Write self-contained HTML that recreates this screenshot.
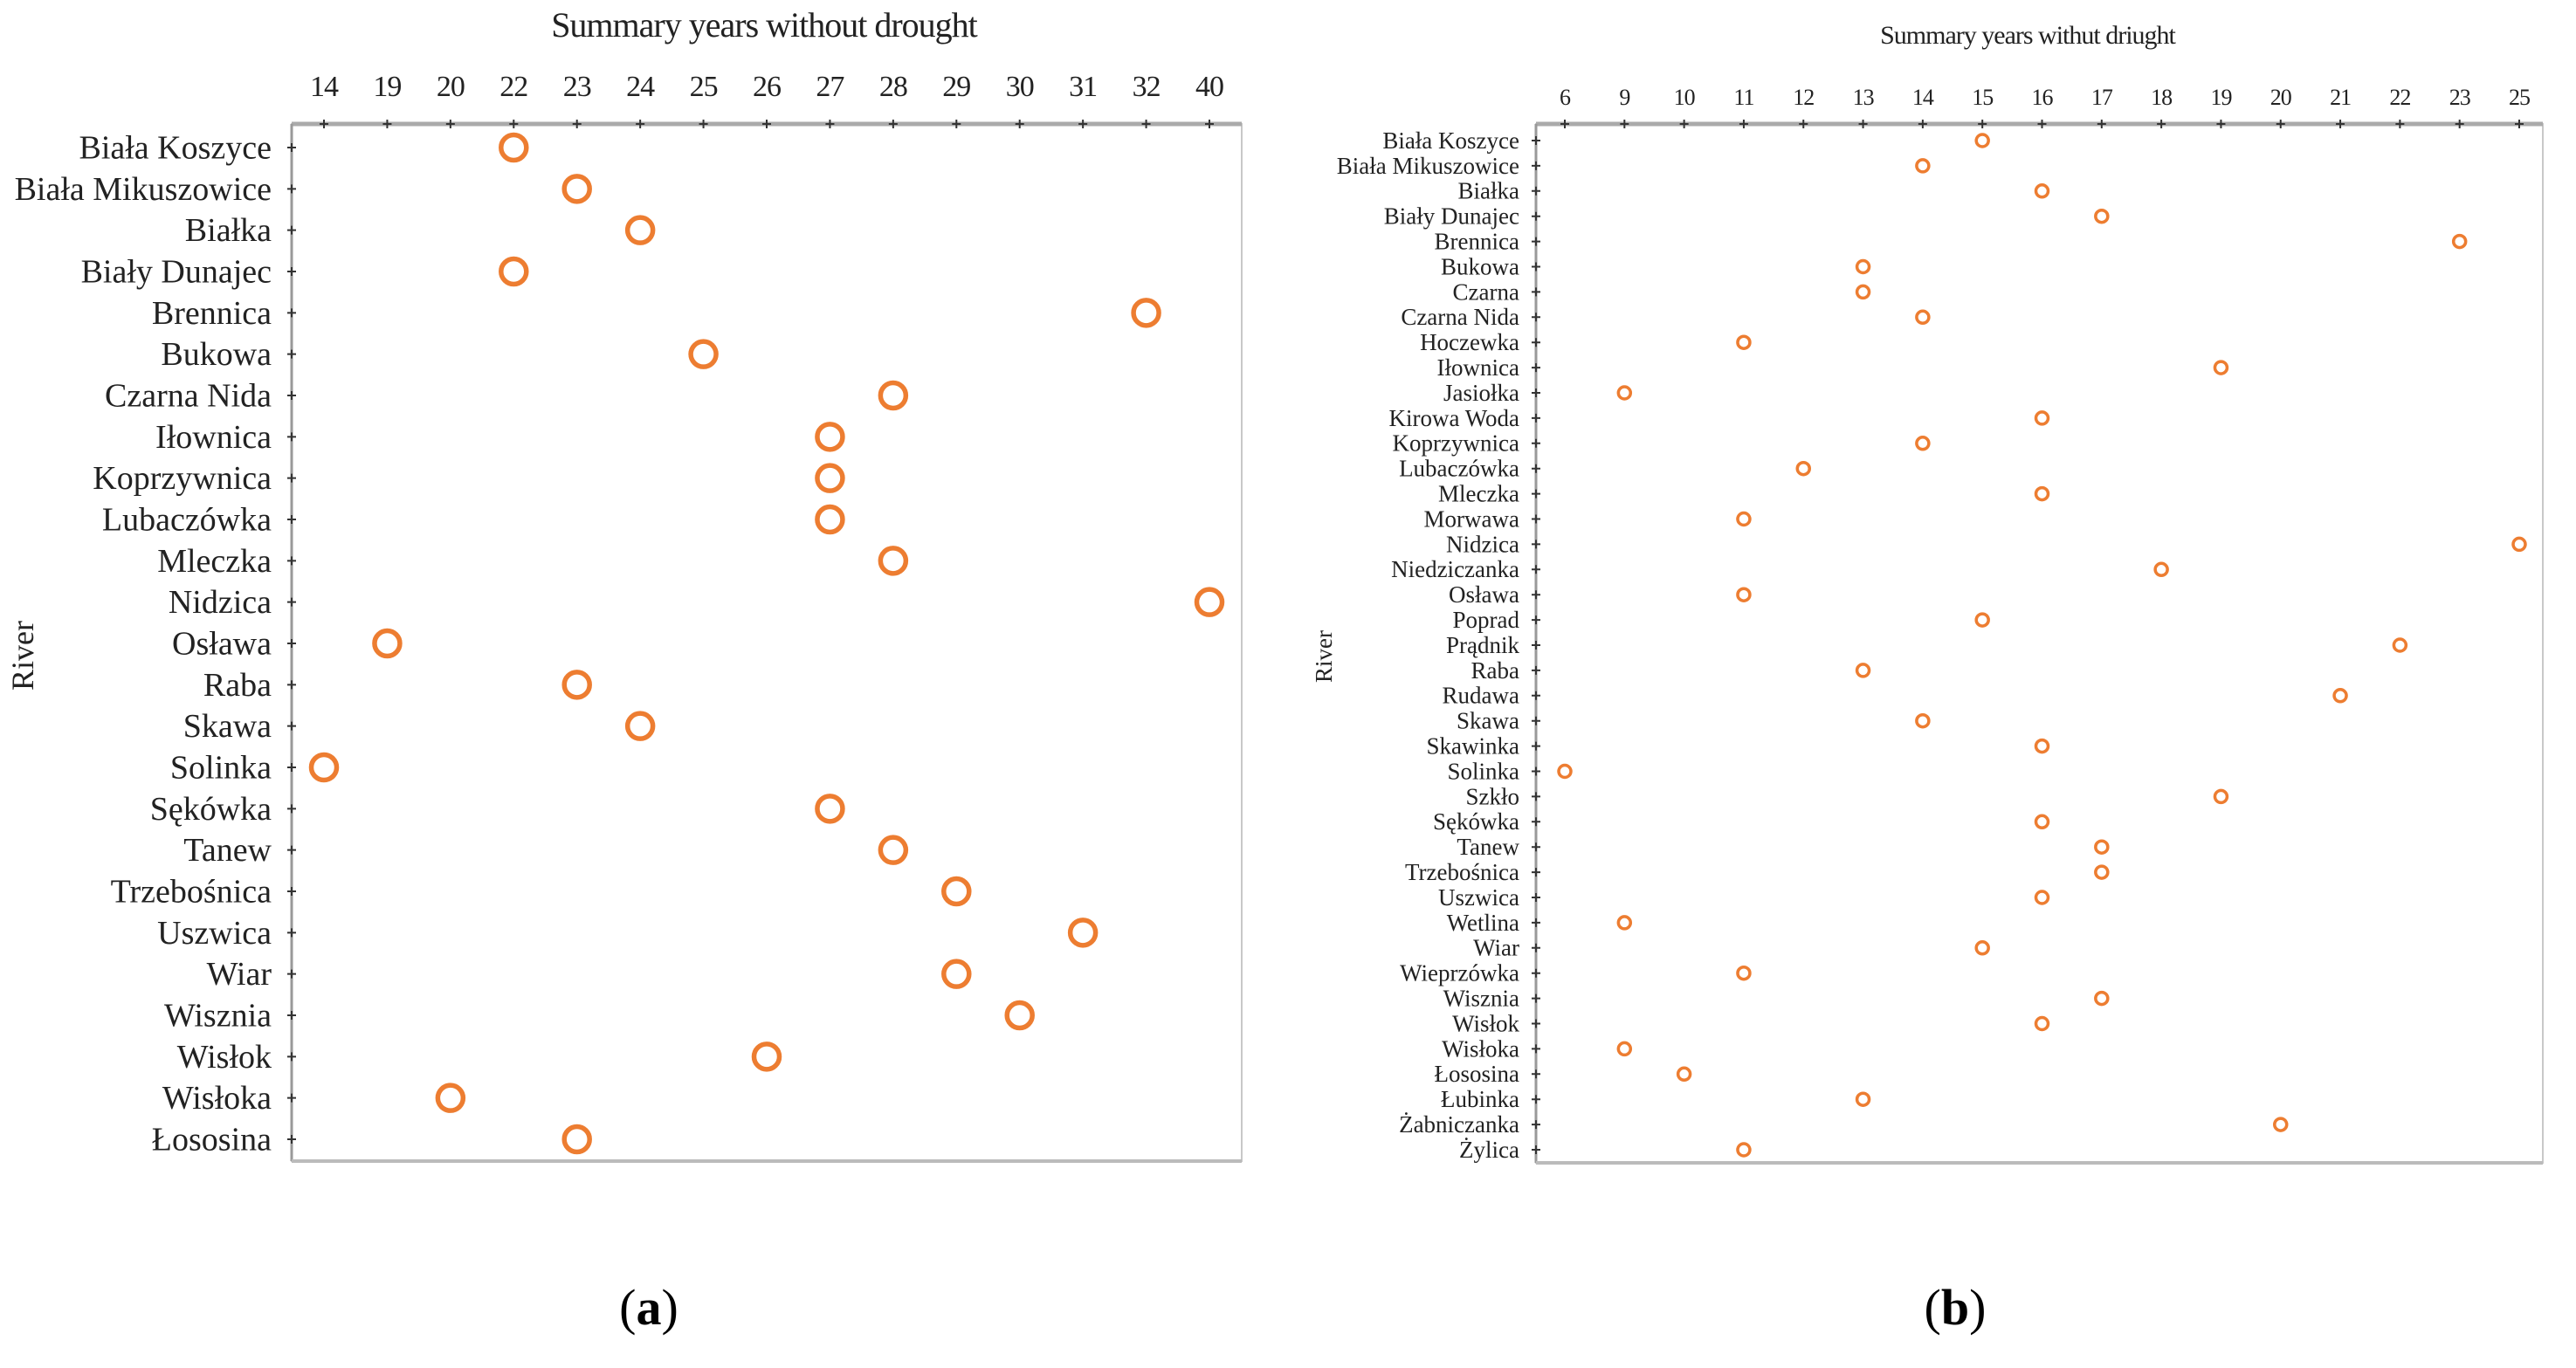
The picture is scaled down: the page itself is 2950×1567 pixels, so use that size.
<!DOCTYPE html>
<html><head><meta charset="utf-8"><style>
html,body{margin:0;padding:0;background:#fff;}
svg{display:block;font-family:"Liberation Serif",serif;}
</style></head><body>
<svg id="fig" width="2950" height="1567" viewBox="0 0 2950 1567" xmlns="http://www.w3.org/2000/svg">
<g id="chartA"></g>
<g id="chartB"></g>
<text x="743" y="1517" font-size="58" text-anchor="middle">(<tspan font-weight="bold">a</tspan>)</text>
<text x="2239" y="1517" font-size="58" text-anchor="middle">(<tspan font-weight="bold">b</tspan>)</text>
</svg>
<script>
const ticksA = ["14","19","20","22","23","24","25","26","27","28","29","30","31","32","40"];
const riversA = ["Biała Koszyce","Biała Mikuszowice","Białka","Biały Dunajec","Brennica","Bukowa","Czarna Nida","Iłownica","Koprzywnica","Lubaczówka","Mleczka","Nidzica","Osława","Raba","Skawa","Solinka","Sękówka","Tanew","Trzebośnica","Uszwica","Wiar","Wisznia","Wisłok","Wisłoka","Łososina"];
const valuesA = [22,23,24,22,32,25,28,27,27,27,28,40,19,23,24,14,27,28,29,31,29,30,26,20,23];
const ticksB = ["6","9","10","11","12","13","14","15","16","17","18","19","20","21","22","23","25"];
const riversB = ["Biała Koszyce","Biała Mikuszowice","Białka","Biały Dunajec","Brennica","Bukowa","Czarna","Czarna Nida","Hoczewka","Iłownica","Jasiołka","Kirowa Woda","Koprzywnica","Lubaczówka","Mleczka","Morwawa","Nidzica","Niedziczanka","Osława","Poprad","Prądnik","Raba","Rudawa","Skawa","Skawinka","Solinka","Szkło","Sękówka","Tanew","Trzebośnica","Uszwica","Wetlina","Wiar","Wieprzówka","Wisznia","Wisłok","Wisłoka","Łososina","Łubinka","Żabniczanka","Żylica"];
const valuesB = [15,14,16,17,23,13,13,14,11,19,9,16,14,12,16,11,25,18,11,15,22,13,21,14,16,6,19,16,17,17,16,9,15,11,17,16,9,10,13,20,11];

const NS="http://www.w3.org/2000/svg";
function mk(parent,tag,attrs){const e=document.createElementNS(NS,tag);for(const k in attrs)e.setAttribute(k,attrs[k]);parent.appendChild(e);return e;}

function draw(g,cfg,ticks,rivers,values){
  const xScale=v=>{const i=ticks.indexOf(String(v));return cfg.x0+i*(cfg.x1-cfg.x0)/(ticks.length-1);};
  const yScale=i=>cfg.y0+i*(cfg.y1-cfg.y0)/(rivers.length-1);
  const fr=mk(g,'rect',{x:cfg.L,y:cfg.T,width:cfg.R-cfg.L,height:cfg.B-cfg.T,fill:'none',stroke:'#c8c8c8','stroke-width':2});
  
  
  const ax=mk(g,'line',{x1:cfg.L,x2:cfg.R,y1:cfg.T,y2:cfg.T,stroke:'#aaa','stroke-width':5});
  
  
  const ay=mk(g,'line',{x1:cfg.L,x2:cfg.L,y1:cfg.T,y2:cfg.B,stroke:'#999','stroke-width':3});
  
  
  const bx=mk(g,'line',{x1:cfg.L,x2:cfg.R,y1:cfg.B,y2:cfg.B,stroke:'#bbb','stroke-width':4});
  
  
  const t=mk(g,'text',{x:cfg.titleX,y:cfg.titleY,'font-size':cfg.titleFs,'text-anchor':'middle',fill:'#222','letter-spacing':-1});
  t.textContent=cfg.title;
  
  
  const yt=mk(g,'text',{x:0,y:0,'font-size':cfg.riverFs,'text-anchor':'middle',fill:'#222',transform:`translate(${cfg.riverX},${(cfg.T+cfg.B)/2+15}) rotate(-90)`});
  yt.textContent='River';
  
  
  ticks.forEach((tk,i)=>{
    const x=xScale(tk);
    const tl=mk(g,'text',{x:x,y:cfg.tickY,'font-size':cfg.tickFs,'text-anchor':'middle',fill:'#222','letter-spacing':-1});
    tl.textContent=tk;
    
    
    const tm=mk(g,'path',{d:`M${x-5} ${cfg.T}H${x+5}M${x} ${cfg.T-5}V${cfg.T+5}`,stroke:'#333','stroke-width':2});
    
    
  });
  rivers.forEach((r,i)=>{
    const y=yScale(i);
    const lb=mk(g,'text',{x:cfg.labelX,y:y+cfg.labFs*0.33,'font-size':cfg.labFs,'text-anchor':'end',fill:'#222'});
    lb.textContent=r;
    
    
    const tm=mk(g,'path',{d:`M${cfg.L-5} ${y}H${cfg.L+5}M${cfg.L} ${y-5}V${y+5}`,stroke:'#333','stroke-width':2});
    
    
    const c=mk(g,'circle',{cx:xScale(values[i]),cy:y,r:cfg.mr,fill:'none',stroke:'#ED7D31','stroke-width':cfg.ms});
    
    
  });
}
draw(document.getElementById('chartA'),{L:334,R:1422,T:142,B:1330,x0:371,x1:1385,y0:169,y1:1305,title:'Summary years without drought',titleX:875,titleY:42,titleFs:40,riverFs:36,tickY:110,tickFs:34,labelX:311,labFs:38,riverX:38,mr:14.5,ms:5.5},ticksA,riversA,valuesA);
draw(document.getElementById('chartB'),{L:1759,R:2912,T:142,B:1332,x0:1792,x1:2885,y0:161,y1:1317,title:'Summary years withut driught',titleX:2322,titleY:50,titleFs:30,riverFs:27,tickY:120,tickFs:26,labelX:1740,labFs:27,riverX:1525,mr:7,ms:3.5},ticksB,riversB,valuesB);
</script>
</body></html>
